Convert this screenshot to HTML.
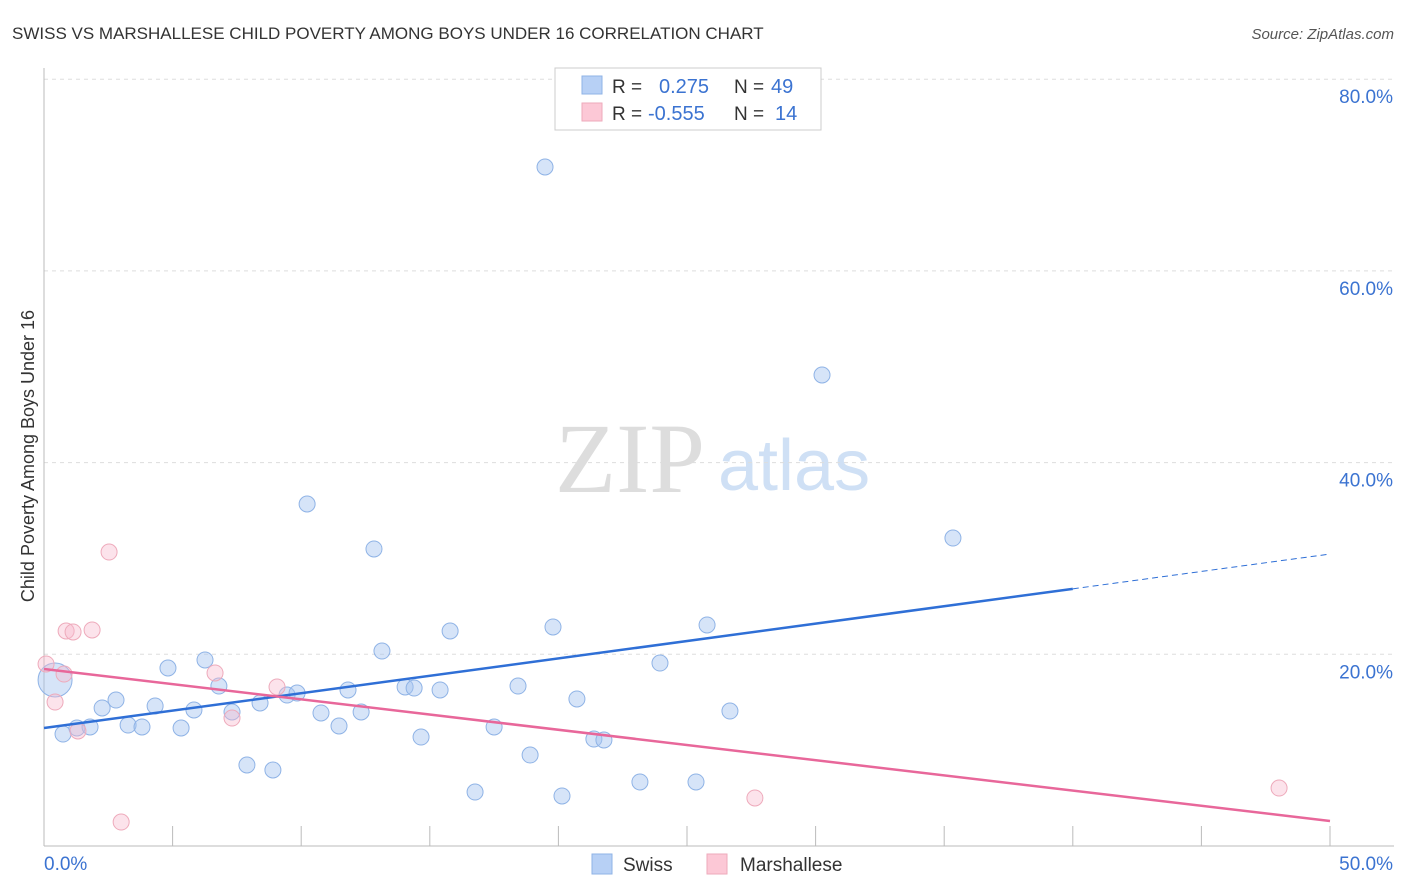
<!DOCTYPE html>
<html><head><meta charset="utf-8"><style>
body{margin:0;background:#fff;font-family:"Liberation Sans",sans-serif}
svg{display:block}
</style></head><body>
<svg width="1406" height="892" id="chart">
<text x="12" y="39" font-size="17" fill="#333">SWISS VS MARSHALLESE CHILD POVERTY AMONG BOYS UNDER 16 CORRELATION CHART</text>
<text x="1394" y="39" font-size="15" fill="#555" font-style="italic" text-anchor="end">Source: ZipAtlas.com</text>
<text x="555" y="492" font-size="100" fill="#ddd" font-family="Liberation Serif,serif">ZIP</text>
<text x="718" y="490" font-size="72" fill="#cfe0f5">atlas</text>
<text transform="translate(34,456) rotate(-90)" font-size="18" fill="#333" text-anchor="middle">Child Poverty Among Boys Under 16</text>
<g id="grid"></g><g id="marks"></g>
<g>
<rect x="555" y="68" width="266" height="62" fill="#fff" stroke="#ccc"/>
<rect x="582" y="76" width="20" height="18" fill="#b7d0f5" stroke="#8fb3e6"/>
<rect x="582" y="103" width="20" height="18" fill="#fcc8d6" stroke="#eeaabb"/>
<text x="612" y="93" font-size="19" fill="#333">R = </text><text x="659" y="93" font-size="20" fill="#3b73d1">0.275</text>
<text x="734" y="93" font-size="19" fill="#333">N = </text><text x="771" y="93" font-size="20" fill="#3b73d1">49</text>
<text x="612" y="120" font-size="19" fill="#333">R = </text><text x="648" y="120" font-size="20" fill="#3b73d1">-0.555</text>
<text x="734" y="120" font-size="19" fill="#333">N = </text><text x="775" y="120" font-size="20" fill="#3b73d1">14</text>
</g>
<g>
<rect x="592" y="854" width="20" height="20" fill="#b7d0f5" stroke="#8fb3e6"/>
<text x="623" y="871" font-size="19" fill="#333">Swiss</text>
<rect x="707" y="854" width="20" height="20" fill="#fcc8d6" stroke="#eeaabb"/>
<text x="740" y="871" font-size="19" fill="#333">Marshallese</text>
</g>
</svg>
<script>
const yTicks=[20,40,60,80];
const xTickLabels=["0.0%","50.0%"];
const swissX=[19.48,30.25,10.23,12.83,35.34,0.43,0.74,1.28,1.79,2.26,2.80,3.27,3.81,4.32,4.82,5.33,5.83,6.26,6.80,7.31,7.89,8.40,8.90,9.45,9.84,10.77,11.47,11.82,12.33,13.14,14.04,14.39,14.66,15.40,15.79,16.76,17.50,18.43,18.90,19.79,20.14,20.72,21.38,21.77,23.17,23.95,25.35,25.78,26.67];
const swissY=[70.84,49.14,35.68,30.99,32.13,17.32,11.68,12.31,12.42,14.40,15.23,12.62,12.42,14.61,18.57,12.31,14.19,19.41,16.69,13.98,8.45,14.92,7.93,15.75,15.96,13.88,12.52,16.28,13.98,20.34,16.59,16.48,11.37,16.28,22.43,5.63,12.42,16.69,9.49,22.85,5.22,15.34,11.16,11.06,6.68,19.09,6.68,23.06,14.08];
const marX=[0.08,0.43,0.78,0.86,1.13,1.32,1.87,2.53,3.00,6.65,7.31,9.06,27.64,48.02];
const marY=[18.99,15.02,17.94,22.43,22.33,12.00,22.54,30.67,2.50,18.05,13.35,16.59,5.01,6.05];
const swissTrend=[12.31,30.46];
const marTrend=[18.47,2.61];
const X=v=>44+v*25.72, Y=v=>846-v*9.585;
const NS="http://www.w3.org/2000/svg";
function mk(t,a,p){const e=document.createElementNS(NS,t);for(const k in a)e.setAttribute(k,a[k]);p.appendChild(e);return e;}
const g=document.getElementById('grid'), m=document.getElementById('marks');
yTicks.forEach(t=>{
 const l=mk('line',{x1:44,x2:1394,y1:Y(t),y2:Y(t),stroke:'#ddd','stroke-dasharray':'4,4'},g);
 
 
 const tx=mk('text',{x:1393,y:Y(t)+24,'font-size':19,fill:'#3b73d1','text-anchor':'end'},g);tx.textContent=t.toFixed(1)+'%';
 
 
});
const ax=mk('line',{x1:44,x2:44,y1:68,y2:846,stroke:'#bbb'},g);


const bx=mk('line',{x1:44,x2:1394,y1:846,y2:846,stroke:'#bbb'},g);


for(let i=0;i<=10;i++){const t=mk('line',{x1:X(i*5),x2:X(i*5),y1:826,y2:846,stroke:'#bbb'},g);
 
 }
[[0,'start',44],[1,'end',1393]].forEach(([i,a,x])=>{const t=mk('text',{x:x,y:870,'font-size':19,fill:'#3b73d1','text-anchor':a},g);t.textContent=xTickLabels[i];
 
 });
swissX.forEach((x,i)=>{const c=mk('circle',{cx:X(x),cy:Y(swissY[i]),r:i==5?17:8,fill:'rgba(164,196,240,0.45)',stroke:'#8fb3e6','stroke-width':1},m);
 
 });
marX.forEach((x,i)=>{const c=mk('circle',{cx:X(x),cy:Y(marY[i]),r:8,fill:'rgba(248,185,205,0.4)',stroke:'#eeaabb','stroke-width':1},m);
 
 });
const sAt=v=>swissTrend[0]+(swissTrend[1]-swissTrend[0])*v/50;
const s1=mk('line',{x1:X(0),y1:Y(sAt(0)),x2:X(40),y2:Y(sAt(40)),stroke:'#2f6fd6','stroke-width':2.5},m);


const s2=mk('line',{x1:X(40),y1:Y(sAt(40)),x2:X(50),y2:Y(sAt(50)),stroke:'#2f6fd6','stroke-width':1,'stroke-dasharray':'6,4'},m);


const p=mk('line',{x1:X(0),y1:Y(marTrend[0]),x2:X(50),y2:Y(marTrend[1]),stroke:'#e8679a','stroke-width':2.5},m);


</script>
</body></html>
